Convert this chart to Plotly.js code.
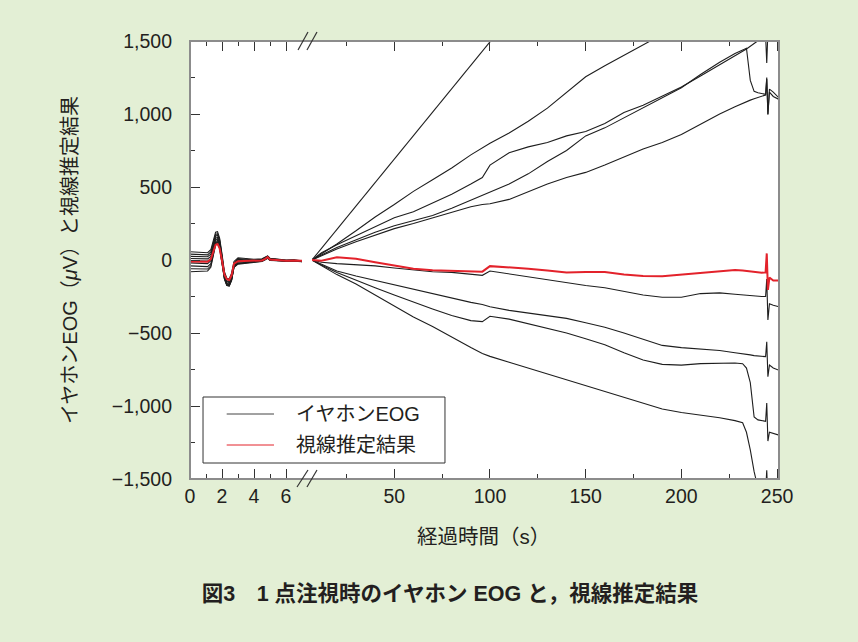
<!DOCTYPE html>
<html>
<head>
<meta charset="utf-8">
<script src="https://cdn.plot.ly/plotly-3.0.1.min.js"></script>
<style>
  html, body { margin: 0; padding: 0; background: #e3efd5; }
  #chart { width: 858px; height: 642px; }
</style>
</head>
<body>
<div id="chart"></div>
<script>
// ---------- data ----------
// time (s) for the first, expanded segment 0–7 s
const tLeft = [0, 0.6, 1.1, 1.3, 1.45, 1.6, 1.72, 1.85, 2.0, 2.15, 2.3, 2.45, 2.6, 2.75, 3.0, 3.5, 4.0, 4.5, 4.7, 4.85, 5.0, 5.5, 6.0, 6.5, 7.0];
// time (s) for the compressed segment 7–251 s
const tRight = [7, 12, 20, 30, 40, 50, 60, 70, 80, 90, 96, 100, 110, 120, 130, 140, 150, 160, 170, 180, 190, 200, 210, 220, 228, 232, 234, 236, 238, 240, 242, 244, 244.6, 245.2, 246, 248, 251];

// イヤホンEOG traces (µV), left segment
const eog1Left = [57, 55, 50, 70, 140, 190, 194, 150, 40, -80, -125, -130, -90, -10, 15, 10, 5, 8, 18, 28, 12, 5, 0, 2, -5];
const eog2Left = [40, 38, 35, 55, 125, 175, 180, 140, 30, -90, -135, -140, -100, -20, 10, 5, 0, 5, 15, 26, 10, 3, -2, 0, -8];
const eog3Left = [25, 24, 22, 40, 110, 162, 170, 130, 20, -100, -145, -150, -110, -25, 5, 0, -3, 2, 12, 24, 8, 0, -3, -2, -10];
const eog4Left = [10, 9, 8, 25, 95, 150, 155, 118, 10, -105, -150, -155, -115, -30, 0, -5, -6, 0, 10, 22, 5, -2, -5, -4, -12];
const eog5Left = [-5, -6, -8, 10, 80, 138, 145, 108, 0, -112, -158, -165, -125, -35, -8, -10, -8, -2, 8, 20, 3, -3, -6, -5, -10];
const eog6Left = [-20, -22, -25, -5, 65, 125, 135, 100, -8, -118, -165, -170, -130, -40, -15, -15, -10, -4, 6, 18, 2, -4, -7, -6, -8];
const eog7Left = [-40, -42, -45, -25, 50, 115, 125, 92, -15, -125, -170, -175, -135, -45, -22, -18, -12, -6, 4, 16, 0, -5, -8, -7, -10];
const eog8Left = [-60, -62, -62, -40, 40, 108, 118, 85, -20, -128, -173, -178, -138, -48, -25, -20, -14, -8, 3, 14, -2, -6, -9, -8, -12];
const eog9Left = [-80, -78, -75, -50, 35, 105, 120, 82, -25, -130, -175, -178, -140, -50, -28, -22, -15, -10, 2, 12, -4, -7, -10, -9, -10];

// イヤホンEOG traces (µV), right segment (null = outside the drawn range)
const eog1Right = [0, 80, 210, 370, 530, 690, 850, 1010, 1175, 1335, 1430, 1495, 1655, null, null, null, null, null, null, null, null, null, null, null, null, null, null, null, null, null, null, null, null, null, null, null, null];
const eog2Right = [0, 40, 110, 200, 295, 380, 470, 550, 630, 720, 770, 800, 870, 950, 1040, 1150, 1255, 1330, 1400, 1470, 1545, 1620, null, null, null, null, null, null, null, null, null, null, null, null, null, null, null];
const eog3Right = [0, 50, 105, 165, 225, 290, 330, 390, 450, 520, 565, 650, 735, 775, 805, 850, 880, 935, 1010, 1060, 1120, 1185, 1260, 1340, 1400, 1430, 1445, 1462, 1485, 1502, 1520, 1535, 1350, 1560, 1545, 1555, 1570];
const eog4Right = [0, 35, 85, 140, 190, 235, 270, 305, 355, 410, 440, 460, 520, 590, 675, 750, 850, 905, 975, 1040, 1110, 1180, 1270, 1355, 1415, 1440, 1450, 1230, 1155, 1145, 1138, 1135, 1250, 995, 1170, 1150, 1110];
const eog5Right = [0, 30, 75, 125, 170, 215, 250, 290, 330, 365, 380, 385, 415, 470, 520, 565, 600, 650, 705, 760, 805, 860, 930, 1000, 1050, 1075, 1085, 1095, 1105, 1115, 1125, 1130, 1240, 1000, 1150, 1120, 1100];
const eog6Right = [0, -15, -25, -30, -40, -55, -70, -80, -85, -95, -105, -75, -95, -120, -140, -160, -175, -190, -215, -240, -255, -255, -230, -225, -235, -240, -245, -245, -248, -250, -250, -250, -130, -410, -300, -310, -320];
const eog7Right = [0, -30, -75, -110, -140, -175, -205, -235, -265, -290, -305, -320, -345, -365, -380, -400, -430, -460, -500, -545, -585, -600, -610, -620, -635, -640, -645, -650, -655, -658, -660, -662, -560, -800, -720, -740, -755];
const eog8Right = [0, -35, -85, -140, -190, -240, -290, -335, -380, -415, -422, -385, -405, -435, -470, -500, -540, -580, -635, -685, -715, -720, -710, -705, -705, -710, -740, -840, -1075, -1095, -1100, -1105, -980, -1240, -1180, -1190, -1200];
const eog9Right = [0, -40, -100, -165, -240, -320, -390, -455, -530, -600, -640, -660, -700, -740, -785, -820, -860, -900, -945, -985, -1020, -1045, -1060, -1080, -1100, -1115, -1180, -1300, -1450, -1560, -1580, -1590, -1440, -1650, -1600, -1600, -1600];

// 視線推定結果 (µV)
const gazeLeft = [-11, -11, -12, 5, 60, 105, 110, 80, -5, -100, -132, -137, -105, -25, -8, -8, -6, -3, 8, 20, 3, -2, -5, -4, -5];
const gazeRight = [0, -5, 18, 8, -15, -40, -60, -70, -72, -78, -80, -42, -50, -60, -72, -85, -82, -82, -100, -110, -112, -100, -88, -75, -68, -72, -75, -80, -84, -87, -88, -85, 45, -205, -120, -140, -140];

// axis ticks
const xTickValsLeft = [0, 2, 4, 6];
const xTickTextLeft = ['0', '2', '4', '6'];
const xMinorLeft = [1, 3, 5];
const xTickValsRight = [50, 100, 150, 200, 250];
const xTickTextRight = ['50', '100', '150', '200', '250'];
const xMinorRight = [25, 75, 125, 175, 225];
const yTickVals = [-1500, -1000, -500, 0, 500, 1000, 1500];
const yTickText = ['\u22121,500', '\u22121,000', '\u2212500', '0', '500', '1,000', '1,500'];
const yMinor = [-1250, -750, -250, 250, 750, 1250];

const eogName = 'イヤホンEOG';
const gazeName = '視線推定結果';
const xTitle = '経過時間（s）';
const yTitle = 'イヤホンEOG（<i>μ</i>V）と視線推定結果';
const caption = '図3　1 点注視時のイヤホン EOG と，視線推定結果';

// ---------- traces ----------
const eogLeft = [eog1Left, eog2Left, eog3Left, eog4Left, eog5Left, eog6Left, eog7Left, eog8Left, eog9Left];
const eogRight = [eog1Right, eog2Right, eog3Right, eog4Right, eog5Right, eog6Right, eog7Right, eog8Right, eog9Right];

const BLACK = '#1e1e1e';
const RED = '#e3222b';
const traces = [];
eogLeft.forEach(function (vals) {
  traces.push({ x: tLeft, y: vals, xaxis: 'x', yaxis: 'y', type: 'scatter', mode: 'lines',
    name: eogName, showlegend: false, line: { color: BLACK, width: 1.1 }, hoverinfo: 'skip' });
});
eogRight.forEach(function (vals) {
  traces.push({ x: tRight, y: vals, xaxis: 'x2', yaxis: 'y', type: 'scatter', mode: 'lines',
    name: eogName, showlegend: false, connectgaps: false, line: { color: BLACK, width: 1.1 }, hoverinfo: 'skip' });
});
traces.push({ x: tLeft, y: gazeLeft, xaxis: 'x', yaxis: 'y', type: 'scatter', mode: 'lines',
  name: gazeName, showlegend: false, line: { color: RED, width: 2 }, hoverinfo: 'skip' });
traces.push({ x: tRight, y: gazeRight, xaxis: 'x2', yaxis: 'y', type: 'scatter', mode: 'lines',
  name: gazeName, showlegend: false, line: { color: RED, width: 2 }, hoverinfo: 'skip' });

// ---------- layout ----------
const FONT = 'Liberation Sans, Arial, "Noto Sans CJK JP", sans-serif';
const TXT = '#231f20';
const TICK = '#333333';
const FRAME = '#8c8c8c';

const commonX = {
  ticks: 'inside', ticklen: 10, tickwidth: 1, tickcolor: TICK,
  mirror: 'ticks', showline: false, showgrid: false, zeroline: false,
  tickfont: { size: 19.5, color: TXT }, ticklabelstandoff: 3, fixedrange: true
};

const layout = {
  width: 858, height: 642,
  margin: { l: 190, r: 79, t: 41, b: 163, pad: 0 },
  paper_bgcolor: '#e3efd5',
  plot_bgcolor: '#ffffff',
  font: { family: FONT, size: 19, color: TXT },
  showlegend: false,
  title: {
    text: caption, x: 0.5245, xanchor: 'center', y: 1 - 593 / 642, yanchor: 'middle',
    xref: 'container', yref: 'container',
    font: { family: FONT, size: 21.5, color: TXT, weight: 'bold' }
  },
  xaxis: Object.assign({}, commonX, {
    domain: [0, 0.1902], range: [0, 7], anchor: 'y',
    tickmode: 'array', tickvals: xTickValsLeft, ticktext: xTickTextLeft,
    minor: { tickmode: 'array', tickvals: xMinorLeft, ticks: 'inside', ticklen: 5, tickcolor: TICK, tickwidth: 1, showgrid: false }
  }),
  xaxis2: Object.assign({}, commonX, {
    domain: [0.2071, 1], range: [7, 251], anchor: 'y',
    tickmode: 'array', tickvals: xTickValsRight, ticktext: xTickTextRight,
    minor: { tickmode: 'array', tickvals: xMinorRight, ticks: 'inside', ticklen: 5, tickcolor: TICK, tickwidth: 1, showgrid: false }
  }),
  yaxis: {
    domain: [0, 1], range: [-1500, 1500], anchor: 'x',
    tickmode: 'array', tickvals: yTickVals, ticktext: yTickText,
    ticks: 'inside', ticklen: 10, tickwidth: 1, tickcolor: TICK,
    minor: { tickmode: 'array', tickvals: yMinor, ticks: 'inside', ticklen: 5, tickcolor: TICK, tickwidth: 1, showgrid: false },
    showline: false, showgrid: false, zeroline: false,
    tickfont: { size: 19.5, color: TXT }, ticklabelstandoff: 17, fixedrange: true,
    title: { text: yTitle, font: { size: 20, color: TXT }, standoff: 28 }
  },
  yaxis2: {
    overlaying: 'y', anchor: 'x2', side: 'right', range: [-1500, 1500],
    tickmode: 'array', tickvals: yTickVals, showticklabels: false,
    ticks: 'inside', ticklen: 10, tickwidth: 1, tickcolor: TICK,
    minor: { tickmode: 'array', tickvals: yMinor, ticks: 'inside', ticklen: 5, tickcolor: TICK, tickwidth: 1, showgrid: false },
    showline: false, showgrid: false, zeroline: false, fixedrange: true
  },
  shapes: [
    // white plotting field (also fills the gap at the axis break)
    { type: 'rect', xref: 'paper', yref: 'paper', x0: 0, x1: 1, y0: 0, y1: 1, layer: 'below',
      fillcolor: '#ffffff', line: { width: 0 } },
    // frame
    { type: 'rect', xref: 'paper', yref: 'paper', x0: 0, x1: 1, y0: 0, y1: 1, layer: 'above',
      fillcolor: 'rgba(0,0,0,0)', line: { color: FRAME, width: 2 } },
    // axis-break marks (top)
    { type: 'line', xref: 'paper', yref: 'paper', x0: 0.1834, y0: 0.9795, x1: 0.2003, y1: 1.0205, layer: 'above', line: { color: TICK, width: 1.2 } },
    { type: 'line', xref: 'paper', yref: 'paper', x0: 0.1986, y0: 0.9795, x1: 0.2156, y1: 1.0205, layer: 'above', line: { color: TICK, width: 1.2 } },
    // axis-break marks (bottom)
    { type: 'line', xref: 'paper', yref: 'paper', x0: 0.1817, y0: -0.0183, x1: 0.2003, y1: 0.0205, layer: 'above', line: { color: TICK, width: 1.2 } },
    { type: 'line', xref: 'paper', yref: 'paper', x0: 0.1986, y0: -0.0183, x1: 0.2156, y1: 0.0205, layer: 'above', line: { color: TICK, width: 1.2 } },
    // legend box
    { type: 'rect', xref: 'paper', yref: 'paper', x0: 0.0221, x1: 0.4329, y0: 0.0365, y1: 0.1872, layer: 'above',
      fillcolor: '#ffffff', line: { color: '#333333', width: 1 } },
    { type: 'line', xref: 'paper', yref: 'paper', x0: 0.0623, x1: 0.1426, y0: 0.1484, y1: 0.1484, layer: 'above',
      line: { color: '#444444', width: 1 } },
    { type: 'line', xref: 'paper', yref: 'paper', x0: 0.0623, x1: 0.1426, y0: 0.0776, y1: 0.0776, layer: 'above',
      line: { color: RED, width: 1 } }
  ],
  annotations: [
    { text: eogName, xref: 'paper', yref: 'paper', x: 0.176, y: 0.1484, xanchor: 'left', yanchor: 'middle',
      showarrow: false, font: { size: 20, color: TXT } },
    { text: gazeName, xref: 'paper', yref: 'paper', x: 0.176, y: 0.0776, xanchor: 'left', yanchor: 'middle',
      showarrow: false, font: { size: 20, color: TXT } },
    { text: xTitle, xref: 'paper', yref: 'paper', x: 0.4983, y: (479 - 536) / 438, xanchor: 'center', yanchor: 'middle',
      showarrow: false, font: { size: 20.5, color: TXT } }
  ]
};

Plotly.newPlot('chart', traces, layout, { staticPlot: true, displayModeBar: false });
</script>
</body>
</html>
